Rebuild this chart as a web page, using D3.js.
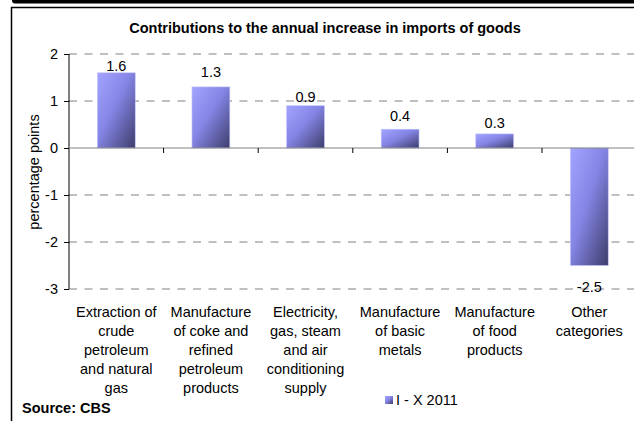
<!DOCTYPE html>
<html>
<head>
<meta charset="utf-8">
<script src="https://cdn.jsdelivr.net/npm/d3@7"></script>
<style>
  html, body { margin: 0; padding: 0; background: #fff; }
  svg { display: block; font-family: "Liberation Sans", Arial, sans-serif; }
</style>
</head>
<body>
<svg id="chart" width="634" height="421"></svg>
<script>
// Contributions (percentage points) by product category, I - X 2011
const categories = [
  "Extraction of\ncrude\npetroleum\nand natural\ngas",
  "Manufacture\nof coke and\nrefined\npetroleum\nproducts",
  "Electricity,\ngas, steam\nand air\nconditioning\nsupply",
  "Manufacture\nof basic\nmetals",
  "Manufacture\nof food\nproducts",
  "Other\ncategories"
];
const values = [1.6, 1.3, 0.9, 0.4, 0.3, -2.5];
const yTicks = [2, 1, 0, -1, -2, -3];
const seriesName = "I - X 2011";
const chartTitle = "Contributions to the annual increase in imports of goods";
const yTitle = "percentage points";
const sourceNote = "Source: CBS";

// extra space between each value label and its bar end
const labelGap = [2, 10, 4, 8, 6, 26];

const FS = 14.5;
const svg = d3.select("#chart");

const plot = { left: 69, right: 636.6, top: 54, bottom: 289 };

const x = d3.scaleBand()
  .domain(d3.range(categories.length))
  .range([plot.left, plot.right])
  .paddingInner(0.6)
  .paddingOuter(0.3);

const y = d3.scaleLinear()
  .domain([-3, 2])
  .range([plot.bottom, plot.top]);

// plain hyphen for negatives
const fmtInt = d => String(d);
const fmtVal = d => d.toFixed(1);

// bar gradient: light periwinkle top-left to dark slate bottom-right
const defs = svg.append("defs");
const grad = defs.append("linearGradient")
  .attr("id", "barFill")
  .attr("x1", "0").attr("y1", "0").attr("x2", "1").attr("y2", "1");
grad.append("stop").attr("offset", "0%").attr("stop-color", "#a3a3ff");
grad.append("stop").attr("offset", "45%").attr("stop-color", "#8585e6");
grad.append("stop").attr("offset", "100%").attr("stop-color", "#3d3d6b");

// outer frame
svg.append("rect")
  .attr("x", 12).attr("y", -10).attr("width", 660).attr("height", 13.5)
  .attr("rx", 3).attr("fill", "#000");
svg.append("path")
  .attr("d", "M11.5,421V7.5H634")
  .attr("fill", "none").attr("stroke", "#000").attr("stroke-width", 1.5);

// title
svg.append("text")
  .attr("x", 325).attr("y", 33)
  .attr("text-anchor", "middle")
  .attr("font-weight", "bold").attr("font-size", FS)
  .text(chartTitle);

// dashed gridlines
svg.append("g")
  .selectAll("line")
  .data(yTicks.filter(t => t !== 0))
  .join("line")
  .attr("x1", plot.left).attr("x2", plot.right)
  .attr("y1", d => y(d)).attr("y2", d => y(d))
  .attr("stroke", "#808080").attr("stroke-width", 1)
  .attr("stroke-dasharray", "8,7.5");

// bars
svg.append("g")
  .selectAll("rect")
  .data(values)
  .join("rect")
  .attr("x", (d, i) => x(i))
  .attr("width", x.bandwidth())
  .attr("y", d => y(Math.max(0, d)))
  .attr("height", d => Math.abs(y(d) - y(0)))
  .attr("fill", "url(#barFill)")
  .attr("stroke", "#c4c4ff").attr("stroke-width", 0.6);

// value axis
const yAxisG = svg.append("g")
  .attr("transform", `translate(${plot.left},0)`)
  .call(d3.axisLeft(y).tickValues(yTicks).tickSize(5).tickPadding(6).tickFormat(fmtInt));
yAxisG.select(".domain").attr("d", `M0,${plot.top}V${plot.bottom}`).attr("stroke", "#000");
yAxisG.selectAll(".tick line").attr("stroke", "#000");
yAxisG.selectAll(".tick text")
  .attr("font-size", FS).attr("fill", "#000")
  .attr("font-family", "Liberation Sans, Arial, sans-serif");

// zero line with category separators
const step = x.step();
svg.append("line")
  .attr("x1", plot.left).attr("x2", plot.right)
  .attr("y1", y(0)).attr("y2", y(0))
  .attr("stroke", "#808080").attr("stroke-width", 1);
svg.append("g")
  .selectAll("line")
  .data(d3.range(1, categories.length + 1))
  .join("line")
  .attr("x1", i => plot.left + i * step).attr("x2", i => plot.left + i * step)
  .attr("y1", y(0)).attr("y2", y(0) + 5)
  .attr("stroke", "#000").attr("stroke-width", 1);

// value labels
svg.append("g")
  .selectAll("text")
  .data(values)
  .join("text")
  .attr("x", (d, i) => x(i) + x.bandwidth() / 2)
  .attr("y", (d, i) => d >= 0 ? y(d) - labelGap[i] : y(d) + labelGap[i])
  .attr("text-anchor", "middle")
  .attr("font-size", FS)
  .text(fmtVal);

// category labels
const catG = svg.append("g");
categories.forEach((c, i) => {
  const cx = x(i) + x.bandwidth() / 2;
  const t = catG.append("text")
    .attr("x", cx)
    .attr("y", 316.5)
    .attr("text-anchor", "middle")
    .attr("font-size", FS);
  c.split("\n").forEach((line, k) => {
    t.append("tspan")
      .attr("x", cx)
      .attr("dy", k === 0 ? 0 : 19)
      .text(line);
  });
});

// y-axis title
svg.append("text")
  .attr("transform", `translate(39,172) rotate(-90)`)
  .attr("text-anchor", "middle")
  .attr("font-size", FS)
  .text(yTitle);

// legend
svg.append("rect")
  .attr("x", 385).attr("y", 396).attr("width", 8).attr("height", 8)
  .attr("fill", "url(#barFill)");
svg.append("text")
  .attr("x", 396).attr("y", 404.5)
  .attr("font-size", FS)
  .text(seriesName);

// source note
svg.append("text")
  .attr("x", 22).attr("y", 413)
  .attr("font-weight", "bold").attr("font-size", FS)
  .text(sourceNote);
</script>
</body>
</html>
